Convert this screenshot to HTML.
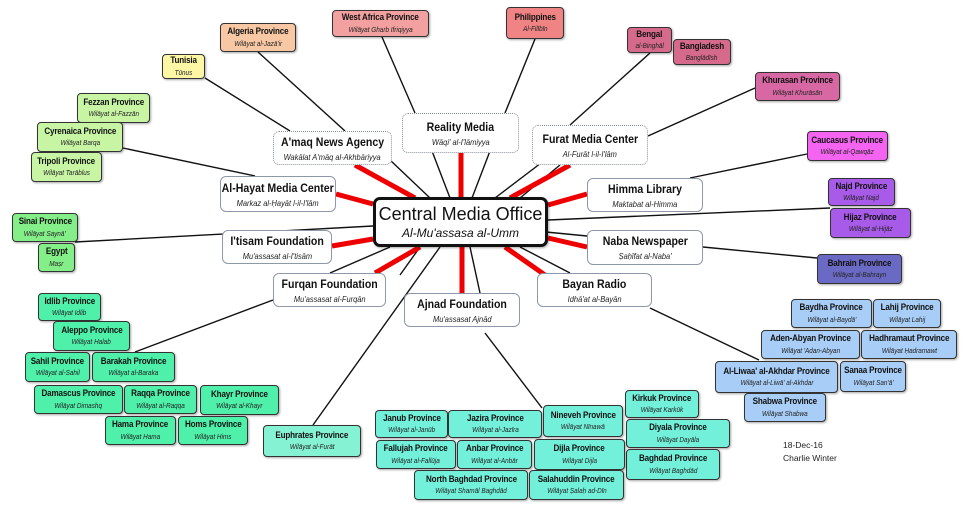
<!DOCTYPE html>
<html><head><meta charset="utf-8"><style>
*{margin:0;padding:0;box-sizing:border-box}
body{width:970px;height:505px;background:#fff;position:relative;overflow:hidden;font-family:"Liberation Sans",sans-serif;color:#111}
.b{position:absolute;display:flex;flex-direction:column;align-items:center;justify-content:center;border:1.5px solid #333;border-radius:4px;box-shadow:1px 1px 2px rgba(0,0,0,.35);line-height:1.3}
.b b{font-size:9.5px;white-space:nowrap;display:inline-block;transform:scaleX(.85);letter-spacing:-.2px}
.b i{font-size:7.5px;white-space:nowrap;display:inline-block;transform:scaleX(.85);color:#222}
.m{position:absolute;display:flex;flex-direction:column;align-items:center;justify-content:center;background:#fff;border:1.5px solid #8e98aa;border-radius:6px;line-height:1.5}
.m b{font-size:12px;white-space:nowrap;display:inline-block;transform:scaleX(.88)}
.m i{font-size:8.5px;white-space:nowrap;display:inline-block;transform:scaleX(.88);color:#222}
.d{border:1.5px dotted #8a92a0}
svg{position:absolute;left:0;top:0}
</style></head><body>
<svg width="970" height="505">
<g stroke="#111" stroke-width="1.4" fill="none">
<line x1="382" y1="37" x2="415" y2="113"/>
<line x1="535" y1="39" x2="505" y2="113"/>
<line x1="258" y1="52" x2="345" y2="131"/>
<line x1="205" y1="78" x2="290" y2="131"/>
<line x1="123" y1="148" x2="255" y2="176"/>
<line x1="75" y1="242" x2="373" y2="226"/>
<line x1="650" y1="53" x2="570" y2="125"/>
<line x1="755" y1="88" x2="648" y2="136"/>
<line x1="807" y1="154" x2="690" y2="178"/>
<line x1="830" y1="208" x2="548" y2="220"/>
<line x1="817" y1="258" x2="703" y2="247"/>
<line x1="135" y1="352" x2="273" y2="300"/>
<line x1="313" y1="425" x2="440" y2="247"/>
<line x1="542" y1="408" x2="485" y2="333"/>
<line x1="650" y1="308" x2="759" y2="360"/>
<line x1="390" y1="160" x2="430" y2="198"/>
<line x1="432" y1="151" x2="450" y2="198"/>
<line x1="490" y1="151" x2="472" y2="198"/>
<line x1="545" y1="160" x2="495" y2="198"/>
<line x1="560" y1="165" x2="520" y2="198"/>
<line x1="546" y1="232" x2="587" y2="236"/>
<line x1="520" y1="247" x2="570" y2="273"/>
<line x1="390" y1="247" x2="330" y2="273"/>
<line x1="420" y1="247" x2="400" y2="275"/>
<line x1="470" y1="247" x2="480" y2="293"/>
</g>
<g stroke="#e00" stroke-width="5" fill="none">
<line x1="355" y1="165" x2="415" y2="198"/>
<line x1="461" y1="153" x2="461" y2="198"/>
<line x1="570" y1="165" x2="510" y2="198"/>
<line x1="336" y1="194" x2="373" y2="204"/>
<line x1="587" y1="194" x2="548" y2="205"/>
<line x1="332" y1="246" x2="373" y2="239"/>
<line x1="587" y1="247" x2="548" y2="238"/>
<line x1="375" y1="273" x2="420" y2="247"/>
<line x1="462" y1="293" x2="462" y2="247"/>
<line x1="545" y1="275" x2="505" y2="247"/>
</g>
</svg>

<div class="b" style="left:373px;top:197px;width:175px;height:50px;border:3px solid #111;border-radius:7px;background:#fff"><span style="font-size:18px">Central Media Office</span><span style="font-size:12px;font-style:italic">Al-Mu'assasa al-Umm</span></div>

<div class="m d" style="left:273px;top:131px;width:119px;height:34px"><b>A'maq News Agency</b><i>Wakālat A'māq al-Akhbāriyya</i></div>
<div class="m d" style="left:402px;top:113px;width:117px;height:40px"><b>Reality Media</b><i>Wāqi' al-I'lāmiyya</i></div>
<div class="m d" style="left:532px;top:125px;width:116px;height:40px"><b>Furat Media Center</b><i>Al-Furāt l-il-I'lām</i></div>
<div class="m" style="left:220px;top:176px;width:116px;height:36px"><b>Al-Hayat Media Center</b><i>Markaz al-Ḥayāt l-il-I'lām</i></div>
<div class="m" style="left:587px;top:178px;width:116px;height:34px"><b>Himma Library</b><i>Maktabat al-Himma</i></div>
<div class="m" style="left:222px;top:230px;width:110px;height:34px"><b>I'tisam Foundation</b><i>Mu'assasat al-I'tisām</i></div>
<div class="m" style="left:587px;top:230px;width:116px;height:35px"><b>Naba Newspaper</b><i>Ṣaḥīfat al-Naba'</i></div>
<div class="m" style="left:273px;top:273px;width:113px;height:34px"><b>Furqan Foundation</b><i>Mu'assasat al-Furqān</i></div>
<div class="m" style="left:404px;top:293px;width:116px;height:34px"><b>Ajnad Foundation</b><i>Mu'assasat Ajnād</i></div>
<div class="m" style="left:537px;top:273px;width:115px;height:34px"><b>Bayan Radio</b><i>Idhā'at al-Bayān</i></div>

<div class="b" style="left:332px;top:10px;width:97px;height:27px;background:#f2a0a0"><b>West Africa Province</b><i>Wilāyat Gharb Ifriqiyya</i></div>
<div class="b" style="left:220px;top:23px;width:76px;height:29px;background:#f8c8a4"><b>Algeria Province</b><i>Wilāyat al-Jazā'ir</i></div>
<div class="b" style="left:162px;top:54px;width:43px;height:25px;background:#fdf6a4"><b>Tunisia</b><i>Tūnus</i></div>
<div class="b" style="left:506px;top:7px;width:58px;height:32px;background:#f08484"><b>Philippines</b><i>Al-Filībīn</i></div>
<div class="b" style="left:627px;top:27px;width:45px;height:26px;background:#d66a8c"><b>Bengal</b><i>al-Binghāl</i></div>
<div class="b" style="left:673px;top:39px;width:58px;height:26px;background:#d66a8c"><b>Bangladesh</b><i>Banglādīsh</i></div>
<div class="b" style="left:755px;top:72px;width:85px;height:29px;background:#d868a4"><b>Khurasan Province</b><i>Wilāyat Khurāsān</i></div>
<div class="b" style="left:807px;top:131px;width:81px;height:30px;background:#f464f0"><b>Caucasus Province</b><i>Wilāyat al-Qawqāz</i></div>
<div class="b" style="left:828px;top:178px;width:67px;height:28px;background:#a85ae8"><b>Najd Province</b><i>Wilāyat Najd</i></div>
<div class="b" style="left:830px;top:208px;width:81px;height:30px;background:#a85ae8"><b>Hijaz Province</b><i>Wilāyat al-Hijāz</i></div>
<div class="b" style="left:817px;top:254px;width:85px;height:30px;background:#6a6ac4"><b>Bahrain Province</b><i>Wilāyat al-Bahrayn</i></div>

<div class="b" style="left:77px;top:93px;width:73px;height:30px;background:#c8f5a4"><b>Fezzan Province</b><i>Wilāyat al-Fazzān</i></div>
<div class="b" style="left:37px;top:122px;width:86px;height:30px;background:#c8f5a4"><b>Cyrenaica Province</b><i>Wilāyat Barqa</i></div>
<div class="b" style="left:31px;top:152px;width:71px;height:30px;background:#c8f5a4"><b>Tripoli Province</b><i>Wilāyat Tarāblus</i></div>
<div class="b" style="left:12px;top:213px;width:66px;height:29px;background:#84ee88"><b>Sinai Province</b><i>Wilāyat Saynā'</i></div>
<div class="b" style="left:38px;top:243px;width:37px;height:29px;background:#84ee88"><b>Egypt</b><i>Maṣr</i></div>

<div class="b" style="left:38px;top:293px;width:63px;height:28px;background:#4ef0aa"><b>Idlib Province</b><i>Wilāyat Idlib</i></div>
<div class="b" style="left:53px;top:321px;width:77px;height:30px;background:#4ef0aa"><b>Aleppo Province</b><i>Wilāyat Halab</i></div>
<div class="b" style="left:25px;top:352px;width:65px;height:30px;background:#4ef0aa"><b>Sahil Province</b><i>Wilāyat al-Sahil</i></div>
<div class="b" style="left:92px;top:352px;width:83px;height:30px;background:#4ef0aa"><b>Barakah Province</b><i>Wilāyat al-Baraka</i></div>
<div class="b" style="left:34px;top:385px;width:89px;height:29px;background:#4ef0aa"><b>Damascus Province</b><i>Wilāyat Dimashq</i></div>
<div class="b" style="left:124px;top:385px;width:73px;height:29px;background:#4ef0aa"><b>Raqqa Province</b><i>Wilāyat al-Raqqa</i></div>
<div class="b" style="left:200px;top:385px;width:79px;height:30px;background:#4ef0aa"><b>Khayr Province</b><i>Wilāyat al-Khayr</i></div>
<div class="b" style="left:105px;top:416px;width:71px;height:29px;background:#4ef0aa"><b>Hama Province</b><i>Wilāyat Hama</i></div>
<div class="b" style="left:178px;top:416px;width:70px;height:29px;background:#4ef0aa"><b>Homs Province</b><i>Wilāyat Hims</i></div>
<div class="b" style="left:263px;top:425px;width:98px;height:32px;background:#86f2d4"><b>Euphrates Province</b><i>Wilāyat al-Furāt</i></div>

<div class="b" style="left:375px;top:410px;width:73px;height:28px;background:#72f0da"><b>Janub Province</b><i>Wilāyat al-Janūb</i></div>
<div class="b" style="left:448px;top:410px;width:94px;height:28px;background:#72f0da"><b>Jazira Province</b><i>Wilāyat al-Jazīra</i></div>
<div class="b" style="left:543px;top:405px;width:80px;height:32px;background:#72f0da"><b>Nineveh Province</b><i>Wilāyat Nīnawā</i></div>
<div class="b" style="left:625px;top:390px;width:74px;height:28px;background:#72f0da"><b>Kirkuk Province</b><i>Wilāyat Karkūk</i></div>
<div class="b" style="left:626px;top:419px;width:104px;height:29px;background:#72f0da"><b>Diyala Province</b><i>Wilāyat Dayāla</i></div>
<div class="b" style="left:626px;top:449px;width:94px;height:31px;background:#72f0da"><b>Baghdad Province</b><i>Wilāyat Baghdād</i></div>
<div class="b" style="left:376px;top:440px;width:80px;height:29px;background:#72f0da"><b>Fallujah Province</b><i>Wilāyat al-Fallūja</i></div>
<div class="b" style="left:457px;top:440px;width:75px;height:29px;background:#72f0da"><b>Anbar Province</b><i>Wilāyat al-Anbār</i></div>
<div class="b" style="left:534px;top:439px;width:91px;height:31px;background:#72f0da"><b>Dijla Province</b><i>Wilāyat Dijla</i></div>
<div class="b" style="left:414px;top:470px;width:114px;height:30px;background:#72f0da"><b>North Baghdad Province</b><i>Wilāyat Shamāl Baghdād</i></div>
<div class="b" style="left:529px;top:470px;width:95px;height:30px;background:#72f0da"><b>Salahuddin Province</b><i>Wilāyat Ṣalaḥ ad-Dīn</i></div>

<div class="b" style="left:791px;top:299px;width:81px;height:29px;background:#a8cdf6"><b>Baydha Province</b><i>Wilāyat al-Baydā'</i></div>
<div class="b" style="left:873px;top:299px;width:68px;height:29px;background:#a8cdf6"><b>Lahij Province</b><i>Wilāyat Lahij</i></div>
<div class="b" style="left:761px;top:330px;width:99px;height:29px;background:#a8cdf6"><b>Aden-Abyan Province</b><i>Wilāyat 'Adan-Abyan</i></div>
<div class="b" style="left:861px;top:330px;width:96px;height:29px;background:#a8cdf6"><b>Hadhramaut Province</b><i>Wilāyat Ḥadramawt</i></div>
<div class="b" style="left:715px;top:361px;width:123px;height:32px;background:#a8cdf6"><b>Al-Liwaa' al-Akhdar Province</b><i>Wilāyat al-Liwā' al-Akhdar</i></div>
<div class="b" style="left:840px;top:361px;width:66px;height:31px;background:#a8cdf6"><b>Sanaa Province</b><i>Wilāyat San'ā'</i></div>
<div class="b" style="left:744px;top:393px;width:82px;height:29px;background:#a8cdf6"><b>Shabwa Province</b><i>Wilāyat Shabwa</i></div>

<div style="position:absolute;left:783px;top:439px;font-size:8.5px;line-height:13px;color:#222">18-Dec-16<br>Charlie Winter</div>
</body></html>
